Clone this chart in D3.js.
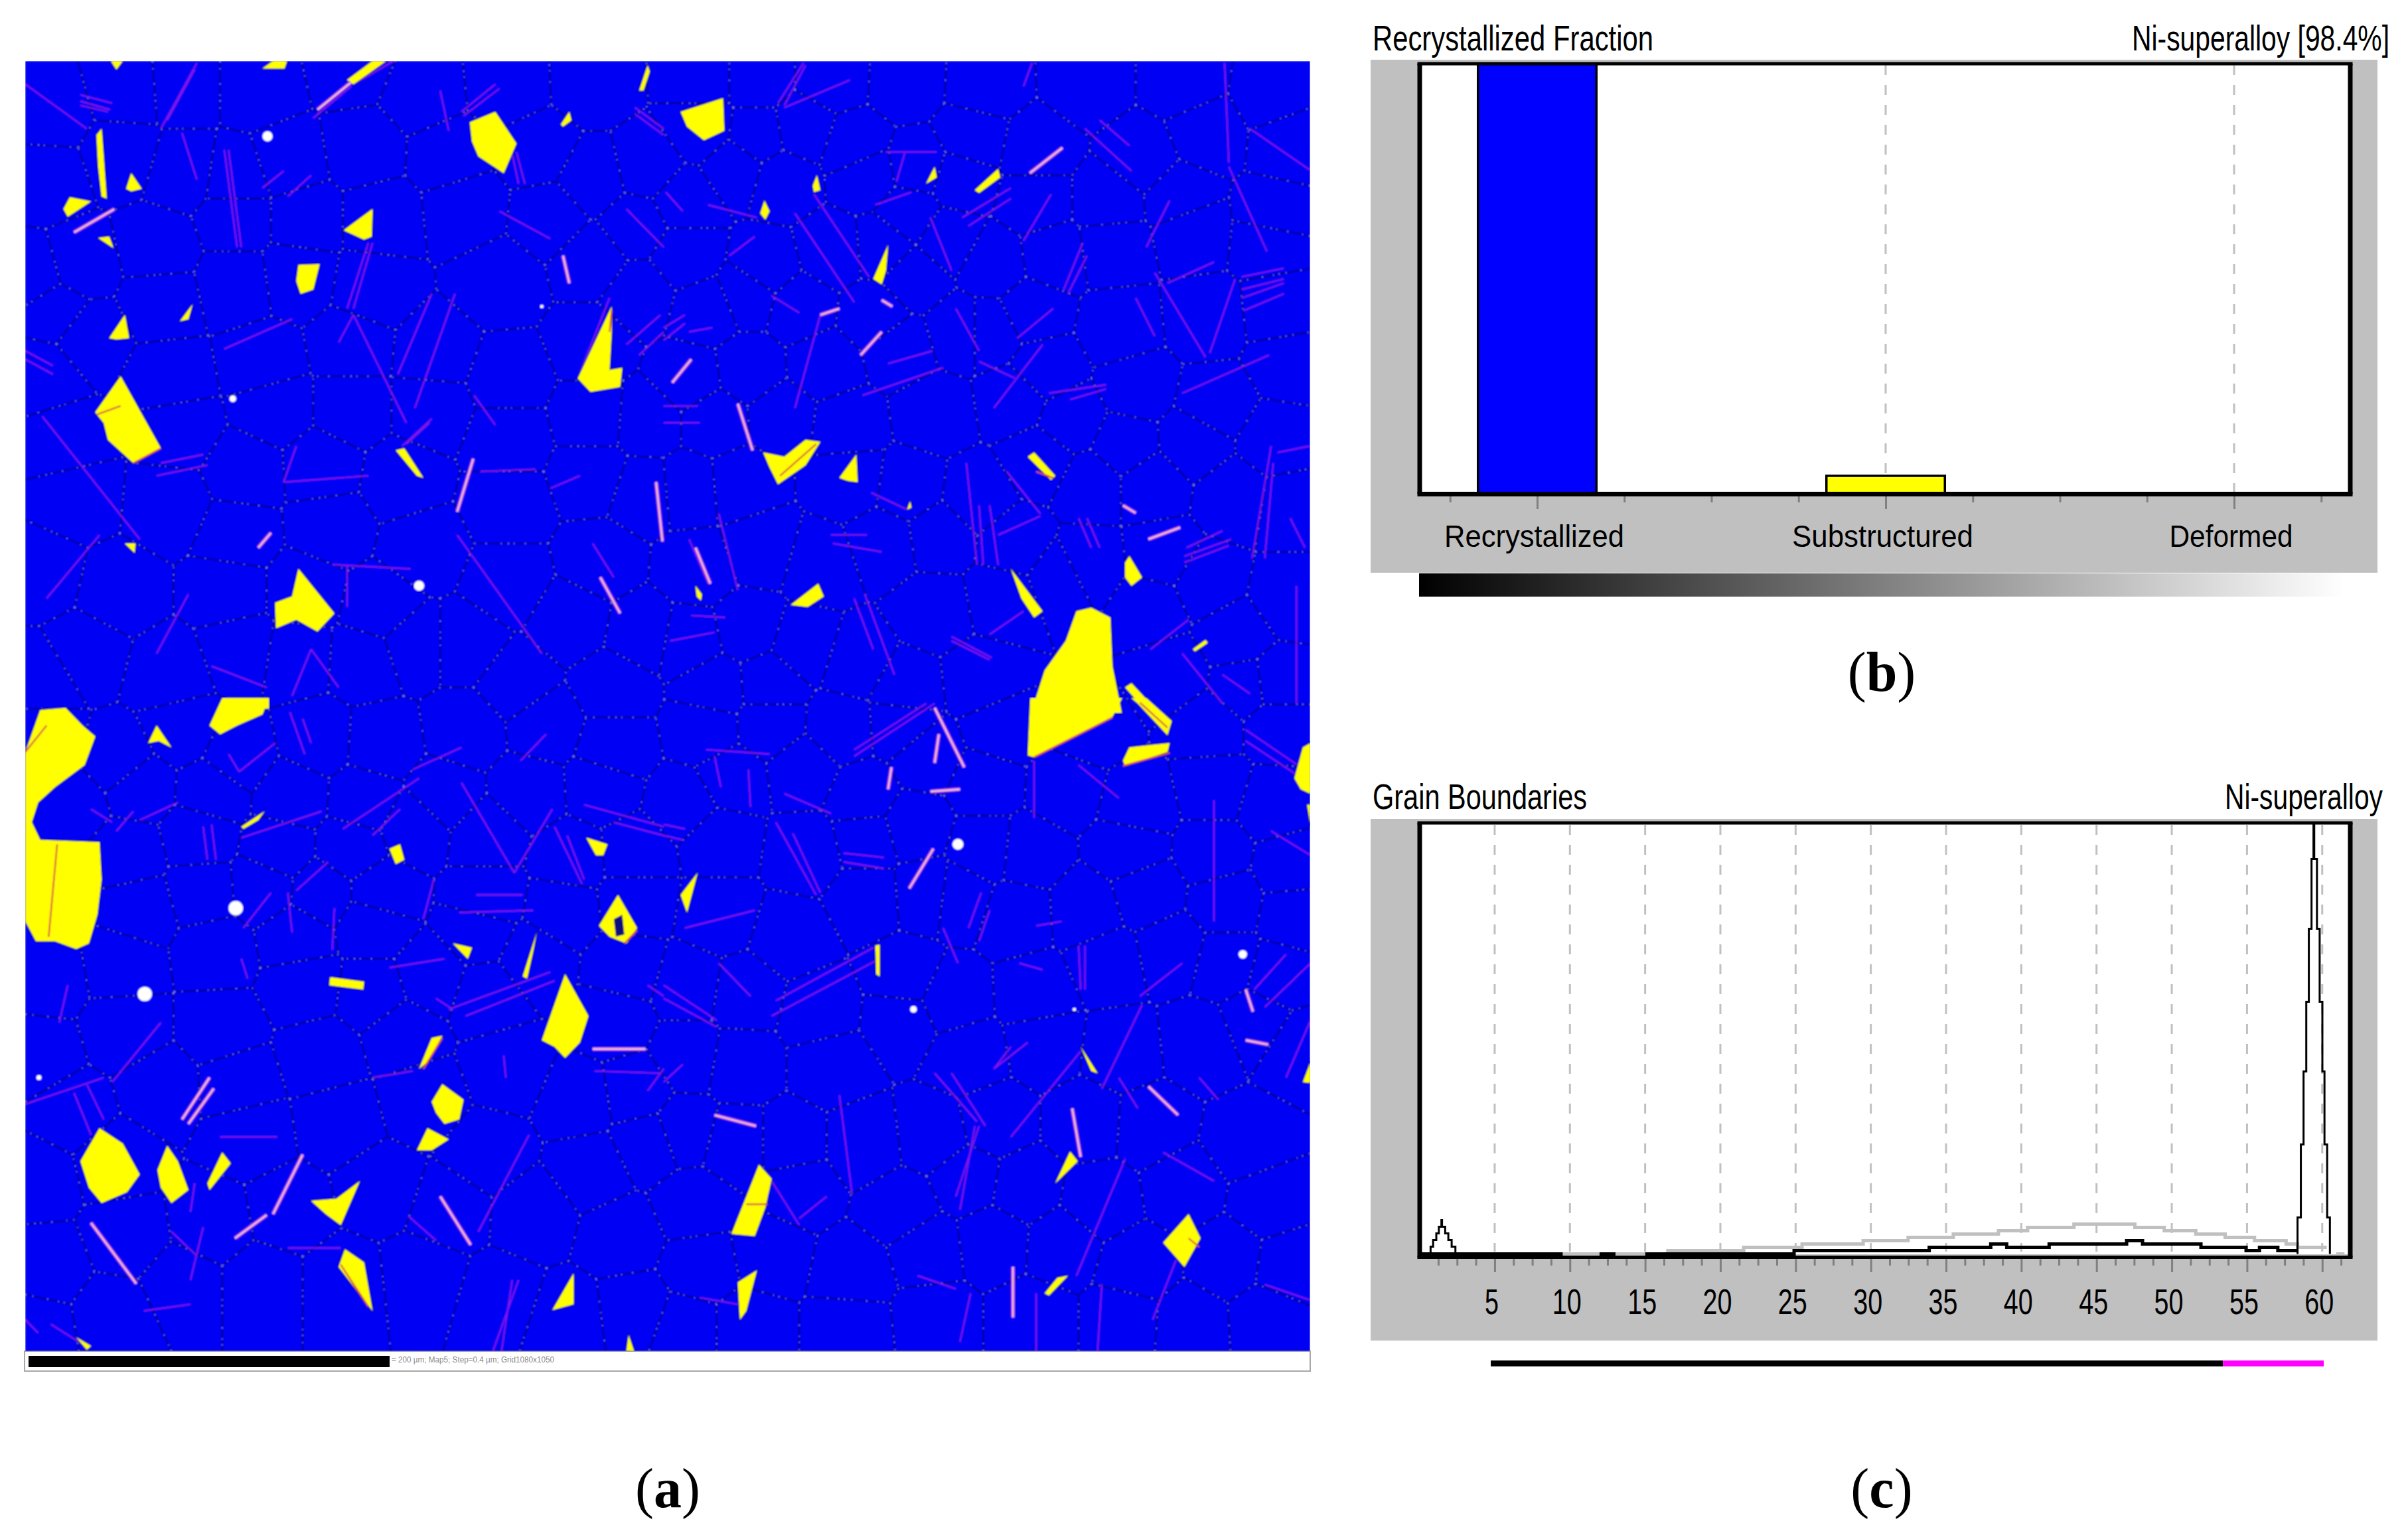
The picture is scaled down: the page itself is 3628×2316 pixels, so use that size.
<!DOCTYPE html>
<html><head><meta charset="utf-8">
<style>html,body{margin:0;padding:0;background:#fff}svg{display:block}</style>
<script src="https://cdn.jsdelivr.net/npm/d3@7/dist/d3.min.js"></script>
</head><body><svg id="chart" width="3628" height="2316"></svg>
<script>
/* ---------- Panel (b): recrystallized fraction ---------- */
const fractionCategories = ["Recrystallized","Substructured","Deformed"];
const fractionValues = [98.4, 4.1, 0];
const fractionColors = ["#0000ff","#ffff00","#ffffff"];
const fractionMinorTicks = [-0.25,0.25,0.5,0.75,1.25,1.5,1.75,2.25];
const fractionMajorTicks = [0,1,2];
const fractionRamp = ["#000000","#ffffff"];

/* ---------- Panel (c): grain boundary misorientation histogram ---------- */
const angleMajorTicks = [5,10,15,20,25,30,35,40,45,50,55,60];
const angleMinorTicks = d3.range(1,50).map(i=>i*1.25).filter(v=>v<62 && v%5!==0);
const measuredSteps = [[2.39,0],[24.9,1],[33.88,2],[37.97,3],[39.03,2],[41.85,3],[47.0,4],[48.06,3],[51.94,2],[54.94,1],[55.83,2],[57.05,1],[58.4,1]];
const randomSteps = [[16.4,1],[21.55,2],[25.43,3],[29.49,4],[32.48,5],[35.48,6],[38.48,7],[40.42,8],[43.5,9],[47.55,8],[49.5,7],[51.6,6],[53.55,5],[55.5,4],[57.6,3],[58.36,2],[60.3,2]];
const randomLowA = [[9.52,0],[11.97,0]];
const randomLowB = [[13.03,0],[15.01,0]];
const randomLowC = [[60.93,0],[61.48,0]];
const peakLow = [[0.74,0],[0.91,2.2],[1.12,4.2],[1.29,6.2],[1.46,8.2],[1.46,10.2],[1.5,10.2],[1.71,8.2],[1.92,6.2],[2.14,4.2],[2.39,2.2],[2.39,0]];
const peakHigh = [[58.36,0],[58.58,11],[58.76,33],[58.94,55],[59.11,76],[59.29,98],[59.42,119],[59.42,130],[59.47,130],[59.65,119],[59.83,98],[60.01,76],[60.15,55],[60.33,33],[60.51,11],[60.51,0]];
const colorKeyBounds = [4.74,53.4,60.1];
const colorKeyColors = ["#000000","#ff00ff"];

/* ---------- Panel (a): EBSD map, read tile by tile (tile units, 0-1568) ---------- */
const grainsNW = [
[[262,50],[290,50],[275,70]],[[620,68],[645,50],[678,50],[672,68]],
[[820,95],[880,50],[912,50],[835,105]],
[[1110,195],[1170,170],[1220,245],[1190,315],[1130,275],[1115,240]],
[[1510,120],[1530,60],[1535,75],[1520,120]],[[1325,200],[1345,170],[1350,190],[1330,205]],
[[228,225],[240,210],[252,375],[240,370],[232,300]],[[298,352],[310,315],[335,352],[310,358]],
[[150,400],[165,372],[215,382],[180,405],[160,418]],[[232,468],[258,465],[268,492]],
[[812,450],[880,400],[878,465],[860,472]],[[705,532],[755,530],[740,590],[710,600],[700,570]],
[[258,705],[295,650],[305,705],[275,708]],[[425,665],[455,625],[445,660]],
[[225,880],[285,795],[380,965],[315,1000],[255,945],[245,905]],
[[1365,800],[1445,630],[1445,690],[1440,780],[1470,775],[1465,820],[1395,832]],
[[935,970],[955,965],[1000,1035],[985,1030]],[[295,1190],[320,1190],[318,1212]],
[[650,1330],[690,1315],[705,1250],[790,1355],[750,1398],[700,1370],[665,1385],[652,1390]],
[[525,1580],[535,1555],[635,1555],[635,1580]]];
const grainsNE = [
[[40,170],[140,138],[143,215],[95,237],[55,205]],[[352,345],[362,320],[370,355],[355,360]],
[[228,410],[238,380],[250,405],[240,425]],[[620,340],[640,300],[645,325]],
[[735,355],[790,305],[795,325],[745,362]],[[495,565],[530,485],[525,545],[515,578]],
[[235,975],[285,985],[335,945],[370,950],[335,1005],[270,1050],[250,1010]],
[[415,1035],[455,980],[458,1045],[435,1042]],[[860,985],[875,975],[925,1030],[915,1040]],
[[300,1335],[365,1285],[378,1315],[340,1340]],[[820,1250],[850,1290],[895,1350],[875,1365],[845,1320]],
[[1090,1235],[1100,1220],[1130,1270],[1105,1290],[1090,1270]],[[75,1290],[90,1310],[88,1325],[78,1315]],
[[868,1590],[900,1490],[950,1420],[975,1350],[1010,1342],[1055,1365],[1060,1480],[1082,1590]],
[[1090,1530],[1105,1520],[1170,1590],[1143,1590]],[[1250,1440],[1280,1418],[1285,1425],[1255,1445]],
[[575,1110],[582,1090],[585,1105]]];
const grainsSW = [
[[60,110],[95,15],[155,10],[195,50],[225,75],[200,140],[130,190],[90,225],[75,270],[95,310],[235,315],[240,400],[230,480],[210,545],[180,558],[130,540],[85,540],[60,495]],
[[350,90],[370,50],[405,100],[375,85]],[[495,50],[525,-12],[635,-12],[620,25],[560,50],[520,70]],
[[570,280],[625,245],[610,265],[575,285]],[[1385,305],[1435,320],[1425,345],[1408,345]],
[[1415,505],[1460,435],[1505,510],[1480,545],[1440,530]],[[1070,545],[1115,555],[1105,580]],
[[1235,620],[1268,520],[1260,560],[1245,625]],[[780,622],[860,632],[858,650],[778,640]],
[[1280,765],[1335,615],[1390,710],[1370,770],[1335,805],[1310,780]],[[990,830],[1020,760],[1045,755],[1010,815]],
[[1020,905],[1045,865],[1095,900],[1085,945],[1050,955],[1030,930]],[[985,1015],[1010,965],[1060,990],[1020,1015]],
[[190,1040],[235,965],[290,1000],[330,1070],[300,1110],[240,1135],[210,1100]],
[[372,1060],[395,1005],[420,1040],[445,1105],[405,1135],[380,1100]],[[490,1090],[525,1020],[545,1045],[495,1105]],
[[735,1130],[795,1125],[850,1085],[805,1185],[770,1160]],[[800,1280],[815,1240],[860,1270],[880,1380]],
[[1305,1378],[1340,1320],[1355,1295],[1355,1365]],[[1480,1470],[1485,1435],[1498,1472]],
[[180,1440],[215,1460],[205,1468]],[[920,330],[945,320],[955,355],[935,365]]];
const grainsSE = [
[[866,-12],[1083,-12],[1060,30],[875,122],[860,118]],[[1105,-12],[1140,-12],[1200,40],[1190,72],[1120,0]],
[[1085,130],[1100,100],[1145,95],[1195,90],[1190,110],[1090,142]],
[[1490,170],[1510,100],[1528,90],[1528,205],[1505,195]],[[1520,230],[1528,230],[1528,275]],
[[40,435],[80,385],[55,475]],[[500,550],[510,548],[510,620],[502,615]],[[985,780],[1025,840],[1010,835]],
[[1510,860],[1528,815],[1528,862]],[[160,1205],[225,1048],[255,1080],[240,1145],[215,1210]],
[[175,1315],[220,1288],[195,1380],[180,1400]],[[925,1090],[960,1018],[978,1040]],
[[1180,1225],[1240,1160],[1268,1215],[1230,1280]],[[900,1340],[930,1305],[955,1300],[910,1345]]];

const holesSW = [[[1450,490],[1470,480],[1475,525],[1455,530]]];
const holesNW = [];const holesNE = [];const holesSE = [];

const voidsNW = [[632,228,12],[990,1290,12],[1280,630,4],[550,848,8]];
const voidsNE = [];
const voidsSW = [[557,465,17],[342,660,17],[92,850,6]];
const voidsSE = [[695,320,13],[1368,570,10],[590,695,8],[970,695,4]];

const edgesNW = [[315,1000,380,965],[230,885,285,865],[1440,690,1445,640]];
const edgesNE = [[275,1030,360,955],[880,1020,920,1035]];
const edgesSW = [[60,110,110,50],[135,320,115,530],[805,1275,870,1370],[1475,545,1505,515],[1000,830,1045,760]];
const edgesSE = [[1125,-2,1190,55],[195,1138,245,1138],[1085,142,1195,112],[875,122,1060,32],[1240,1215,1265,1235]];

const twinsNW = [[60,105,205,210],[380,210,465,55],[395,190,460,70],[190,130,265,150],[190,145,260,165],[190,155,255,170],[740,185,830,110],[835,105,930,50],[1090,170,1170,105],[1095,180,1180,115],[1040,120,1060,215],[430,220,465,330],[530,260,560,490],[540,260,570,490],[1210,270,1225,340],[1220,265,1240,340],[620,350,670,310],[680,370,735,320],[820,635,870,480],[835,635,880,480],[530,730,690,660],[60,735,125,770],[60,755,125,790],[800,715,835,650],[835,650,960,905],[940,790,1020,600],[980,870,1075,600],[950,960,1020,895],[960,955,1015,905],[1365,800,1440,610],[1480,720,1560,650],[1510,745,1568,690],[1180,405,1300,470],[1480,400,1568,490],[1500,160,1568,210],[1500,175,1568,225],[670,1045,870,1030],[670,1045,700,960],[100,890,330,1180],[110,1320,235,1170],[1135,1020,1265,1015],[1080,1170,1280,1450],[785,1240,970,1250],[820,1240,820,1340],[1400,1190,1450,1270],[380,1000,480,980],[370,1030,490,1005],[500,1480,630,1530],[370,1450,445,1310],[735,1440,800,1530],[690,1550,735,1440],[1120,840,1170,910],[1300,1060,1370,1030]];
const brightNW = [[175,455,270,400],[1330,510,1345,575],[1080,1115,1118,990],[1418,1270,1465,1355],[1550,1045,1565,1185],[610,1200,640,1165],[750,165,830,100]];

const twinsNE = [[270,150,330,55],[285,155,335,60],[285,160,440,95],[850,110,870,55],[1325,55,1335,290],[1385,210,1530,310],[995,210,1105,310],[1030,190,1100,250],[5,360,45,405],[310,410,450,620],[355,365,485,560],[525,265,645,265],[550,335,570,265],[105,390,220,420],[155,510,215,465],[500,390,585,360],[630,420,680,545],[705,420,820,350],[720,440,820,375],[850,475,915,365],[945,590,990,480],[955,600,1000,510],[1140,490,1195,380],[1335,300,1425,500],[1190,575,1300,525],[1160,550,1280,750],[1290,740,1350,565],[1365,560,1465,540],[1365,590,1465,565],[1365,610,1465,575],[310,870,370,650],[0,680,50,650],[0,710,50,670],[60,690,115,680],[255,605,320,645],[470,840,660,775],[530,765,635,735],[690,635,745,735],[745,760,830,800],[780,870,895,720],[835,705,920,635],[910,835,1045,815],[960,850,1045,825],[1225,835,1430,745],[1450,975,1525,960],[0,905,85,905],[0,865,80,865],[490,1070,575,1110],[715,1000,740,1240],[745,1100,755,1240],[770,1100,790,1240],[790,1170,890,1125],[770,1405,850,1350],[680,1410,775,1460],[680,1420,770,1465],[450,1320,495,1440],[475,1310,545,1500],[1230,1220,1340,1180],[1230,1235,1335,1195],[1235,1200,1320,1160],[1390,1225,1435,960],[1420,1225,1440,1000],[1495,1290,1495,1568],[1480,1130,1515,1200],[1320,1500,1385,1545],[1150,1440,1240,1370],[1225,1450,1320,1568],[395,1170,480,1170],[400,1190,515,1210],[15,1420,120,1400],[65,1360,145,1365],[60,1180,105,1285],[130,1120,175,1300],[810,1020,890,1120],[980,1130,1010,1200],[1000,1130,1030,1200],[1370,640,1465,600],[1115,610,1160,700]];
const brightNE = [[865,315,942,255],[1145,1180,1220,1152],[1085,1100,1115,1118],[515,615,540,630],[370,650,415,635],[465,745,515,690],[20,810,65,755],[175,860,210,970],[75,1200,110,1285]];

const twinsSW = [[700,425,775,360],[215,240,265,270],[275,290,315,245],[520,985,655,985],[680,1237,805,1237],[1405,835,1560,840],[120,1410,210,1465],[1060,695,1300,610],[1100,710,1310,630],[1090,180,1215,385],[1215,385,1305,240],[810,285,990,170],[880,300,945,240],[570,305,760,245],[60,910,245,850],[265,860,380,725],[175,885,215,980],[205,865,245,945],[1130,1200,1250,980],[1165,1470,1225,1310],[1185,1470,1210,1310],[1310,280,1375,410],[1340,300,1380,400],[480,280,490,355],[500,275,510,355],[1230,130,1290,70],[1380,230,1568,280],[1450,270,1568,300],[975,150,1090,100],[685,20,720,115],[715,35,735,90],[540,115,565,155],[565,155,650,90],[330,265,420,225],[1000,490,1025,400],[1085,475,1260,470],[1125,435,1235,435],[570,580,585,625],[140,725,160,640],[575,510,640,430],[680,430,690,520],[790,465,785,560],[920,600,1050,580],[1030,670,1070,695],[450,1310,480,1190],[340,1380,450,1365],[405,1200,465,1255],[965,1165,1030,1220],[1530,640,1568,665],[1190,800,1195,850],[880,850,975,835],[450,1155,460,1090],[60,1400,90,1430],[1530,880,1568,830]];
const brightSW = [[215,1180,322,1318],[430,945,495,850],[445,955,505,875],[555,1215,630,1162],[645,1160,715,1025],[1040,1120,1112,1230],[1400,785,1525,785]];

const twinsSE = [[450,120,640,0],[450,105,620,0],[130,590,205,665],[265,675,495,555],[255,710,500,585],[0,640,125,720],[0,670,125,735],[1035,875,1130,685],[820,985,985,790],[50,510,215,470],[265,270,360,435],[305,295,370,430],[285,205,395,250],[425,340,520,350],[425,360,520,375],[980,550,985,650],[995,550,995,650],[880,505,940,495],[1300,220,1300,495],[875,130,875,260],[980,140,1075,215],[1375,60,1528,160],[1375,85,1500,165],[1435,290,1528,345],[1420,690,1528,590],[1470,850,1528,720],[1395,650,1470,570],[1125,665,1225,590],[415,890,445,1115],[0,860,45,820],[690,1120,745,960],[735,960,700,1150],[975,1300,1090,1035],[1155,1400,1210,1265],[600,1300,690,1330],[85,1350,175,1365],[1420,1320,1525,1355],[255,1085,320,1185],[320,1170,385,1120],[0,275,50,285],[0,300,45,310],[120,120,135,190],[200,150,205,235],[100,105,250,115],[660,510,695,590],[720,510,750,430],[745,540,770,470],[840,590,895,605],[1265,850,1310,900],[640,840,740,950],[680,840,760,960],[780,830,860,770],[780,830,820,780],[1180,1020,1300,1085],[700,1450,725,1340],[880,1470,880,1340],[1025,1470,1035,1320],[1075,850,1120,920]];
const brightSE = [[640,10,710,145],[640,135,650,70],[630,200,700,195],[530,195,538,145],[120,935,218,960],[1375,650,1392,700],[1375,765,1428,775],[965,920,985,1030],[825,1280,825,1395],[580,420,637,330],[1145,870,1215,935]];

const centersNW = [[120,170],[300,120],[430,110],[610,110],[830,60],[1000,130],[1200,110],[1400,100],[110,330],[290,270],[430,310],[560,330],[680,290],[860,260],[1060,270],[1270,260],[1400,330],[1530,300],[80,560],[190,530],[370,490],[560,420],[720,420],[900,420],[1100,400],[1300,420],[1500,440],[130,640],[380,620],[560,580],[700,560],[880,590],[1180,570],[1400,520],[1510,600],[100,790],[210,700],[400,800],[620,760],[830,720],[1030,740],[1200,800],[1400,720],[150,950],[420,920],[650,870],[830,870],[1020,870],[1200,940],[1400,890],[1530,900],[180,1080],[400,1100],[580,1020],[760,1010],[950,1040],[1200,1100],[1400,1030],[1520,1070],[100,1260],[280,1300],[560,1170],[780,1150],[1000,1200],[1200,1280],[1420,1230],[200,1450],[540,1300],[720,1300],[900,1340],[1100,1430],[1350,1370],[1520,1400],[100,1510],[400,1500],[570,1440],[700,1460],[860,1470],[980,1430],[1220,1520],[1450,1530]];
const centersNE = [[90,90],[220,90],[400,90],[570,100],[760,110],[1000,100],[1230,100],[1440,130],[90,210],[220,230],[330,210],[450,250],[600,300],[730,230],[880,260],[1130,280],[1280,220],[1480,240],[50,380],[170,300],[280,330],[480,320],[580,410],[700,330],[880,380],[1050,380],[1220,370],[1440,420],[50,510],[240,540],[400,500],[520,490],[670,470],[780,530],[920,510],[1060,490],[1250,450],[1430,470],[100,640],[200,600],[320,630],[500,650],[590,560],[700,690],[870,640],[1080,680],[1280,660],[1460,640],[60,800],[200,780],[380,770],[560,730],[770,690],[900,780],[1120,820],[1300,860],[1480,760],[120,900],[280,890],[430,910],[640,880],[830,850],[960,900],[1090,960],[1250,950],[1450,950],[60,1060],[180,1050],[440,1040],[580,1060],[740,1080],[890,990],[1010,1050],[1150,1050],[1350,1080],[1480,1100],[80,1250],[230,1200],[370,1240],[520,1190],[650,1170],[830,1190],[1000,1240],[1180,1220],[1280,1280],[1480,1320],[60,1420],[200,1390],[330,1430],[460,1470],[640,1350],[800,1320],[940,1270],[1150,1340],[1350,1410],[1450,1520],[120,1530],[250,1520],[570,1530],[750,1510],[1200,1500],[1370,1530]];
const centersSW = [[100,80],[280,130],[430,60],[560,120],[750,80],[900,90],[1100,60],[1290,50],[1450,100],[170,230],[330,190],[500,200],[690,210],[860,220],[1050,210],[1250,200],[1420,190],[300,340],[470,300],[660,330],[830,330],[980,280],[1150,300],[1350,350],[1500,340],[330,470],[480,430],[620,420],[760,430],[900,430],[1150,440],[1330,470],[1500,450],[110,620],[290,590],[510,560],[700,530],[880,500],[1130,520],[1260,580],[1480,600],[90,800],[300,740],[520,740],[720,640],[880,660],[1020,620],[1150,660],[1450,720],[170,930],[380,870],[560,860],[760,800],[950,750],[1200,830],[1370,900],[1500,880],[90,1080],[270,1040],[590,980],[800,950],[1000,900],[1150,1020],[1400,1060],[1530,1000],[110,1280],[300,1210],[500,1180],[680,1150],[900,1100],[1060,1150],[1260,1160],[1470,1210],[80,1420],[270,1390],[430,1320],[620,1320],[810,1320],[1000,1300],[1180,1350],[1340,1400],[1500,1380]];
const centersSE = [[100,60],[250,50],[420,60],[560,50],[800,60],[1000,60],[1290,50],[1450,50],[50,230],[160,170],[330,150],[470,210],[620,120],[760,180],[950,190],[1120,230],[1300,190],[1440,230],[130,310],[340,340],[480,310],[590,280],[760,330],[860,340],[1100,330],[1300,340],[1480,370],[130,480],[300,530],[480,440],[620,430],[700,440],[830,480],[1000,470],[1140,430],[1330,450],[1490,480],[60,640],[190,660],[370,700],[570,620],[680,670],[880,660],[1050,590],[1200,560],[1330,590],[1450,620],[60,800],[180,820],[400,820],[560,720],[720,800],[900,770],[1080,790],[1270,770],[1400,720],[1500,780],[50,970],[170,1000],[300,1000],[470,1000],[640,980],[780,950],[1000,950],[1150,960],[1380,1000],[70,1140],[320,1100],[560,1150],[720,1080],[850,1100],[1030,1130],[1230,1100],[1430,1130],[90,1280],[250,1250],[450,1290],[620,1240],[780,1220],[940,1230],[1120,1280],[1330,1260],[1480,1280],[50,1420],[200,1420],[440,1420],[640,1400],[870,1400],[1090,1400],[1240,1410],[1430,1400]];

/* ---------- Drawing ---------- */
const svg = d3.select("#chart");
const SANS = "'Liberation Sans Narrow','Liberation Sans',Arial,sans-serif", SERIF = "'Liberation Serif',serif";
const GRAY = "#c0c0c0", TICK = "#808080";

function squeezed(g,x,y,txt,len,size,anchor){
  return g.append("text").attr("x",x).attr("y",y).attr("font-family",SANS).attr("font-size",size)
    .attr("text-anchor",anchor||"start").attr("textLength",len).attr("lengthAdjust","spacingAndGlyphs")
    .attr("fill","#000").text(txt);
}
function caption(x,y,letter){
  const t = svg.append("text").attr("x",x).attr("y",y).attr("text-anchor","middle")
    .attr("font-family",SERIF).attr("font-size",84).attr("fill","#000");
  t.append("tspan").text("(");
  t.append("tspan").attr("font-weight","bold").text(letter);
  t.append("tspan").text(")");
}
function frame(g,x0,x1,y0,y1,bottomW){
  const seg=(a,b,c,d,w)=>g.append("line").attr("x1",a).attr("y1",b).attr("x2",c).attr("y2",d).attr("stroke","#000").attr("stroke-width",w);
  seg(x0-3.5,y0,x1+3.5,y0,5); seg(x0,y0,x0,y1,7); seg(x1,y0,x1,y1,7); seg(x0-3.5,y1,x1+3.5,y1,bottomW);
}
function styleAxis(g){
  g.select(".domain").remove();
  g.selectAll(".tick line").attr("stroke",TICK).attr("stroke-width",3);
}

/* ---- panel a ---- */
const mapG = svg.append("g");
const mapBox = {x0:38,x1:1974,y0:92,y1:2036};
svg.append("defs").html(`<clipPath id="mapClip"><rect x="${mapBox.x0}" y="${mapBox.y0}" width="${mapBox.x1-mapBox.x0}" height="${mapBox.y1-mapBox.y0}"/></clipPath><filter id="soft" x="0" y="0" width="1" height="1"><feGaussianBlur stdDeviation="0.9"/></filter>`);
mapG.append("rect").attr("x",mapBox.x0-1).attr("y",mapBox.y1).attr("width",mapBox.x1-mapBox.x0+1).attr("height",30)
  .attr("fill","#fff").attr("stroke","#a8a8a8").attr("stroke-width",2);
mapG.append("rect").attr("x",43).attr("y",2043).attr("width",544).attr("height",17).attr("fill","#000");
mapG.append("text").attr("x",590).attr("y",2053).attr("font-family",SANS).attr("font-size",12).attr("fill","#8a8a8a")
  .attr("textLength",245).attr("lengthAdjust","spacingAndGlyphs").text("= 200 µm; Map5; Step=0.4 µm; Grid1080x1050");

const tiles = [
 {g:grainsNW,h:holesNW,v:voidsNW,t:twinsNW,b:brightNW,c:centersNW,e:edgesNW,x:d3.scaleLinear([0,1568],[0,1000]),y:d3.scaleLinear([0,1568],[60,1060])},
 {g:grainsNE,h:holesNE,v:voidsNE,t:twinsNE,b:brightNE,c:centersNE,e:edgesNE,x:d3.scaleLinear([0,1568],[1000,2000]),y:d3.scaleLinear([0,1568],[60,1060])},
 {g:grainsSW,h:holesSW,v:voidsSW,t:twinsSW,b:brightSW,c:centersSW,e:edgesSW,x:d3.scaleLinear([0,1568],[0,1000]),y:d3.scaleLinear([0,1568],[1060,2100])},
 {g:grainsSE,h:holesSE,v:voidsSE,t:twinsSE,b:brightSE,c:centersSE,e:edgesSE,x:d3.scaleLinear([0,1568],[1000,2000]),y:d3.scaleLinear([0,1568],[1060,2100])}
];
const map = mapG.append("g").attr("clip-path","url(#mapClip)").append("g").attr("filter","url(#soft)");
map.append("rect").attr("x",mapBox.x0).attr("y",mapBox.y0).attr("width",mapBox.x1-mapBox.x0).attr("height",mapBox.y1-mapBox.y0).attr("fill","#0000f4");

const allCenters = tiles.flatMap(t=>t.c.map(p=>[t.x(p[0]),t.y(p[1])]));
const cellPath = d3.Delaunay.from(allCenters).voronoi([mapBox.x0,mapBox.y0,mapBox.x1,mapBox.y1]).render();
map.append("path").attr("d",cellPath).attr("fill","none").attr("stroke","#00009a").attr("stroke-width",2.6);
map.append("path").attr("d",cellPath).attr("fill","none").attr("stroke","#8c8cff").attr("stroke-width",1.4).attr("stroke-dasharray","2 9 1.5 21 2 15 1.5 7");

const lineOf = t => d3.line().x(p=>t.x(p[0])).y(p=>t.y(p[1]));
const segOf = t => d => lineOf(t)([[d[0],d[1]],[d[2],d[3]]]);
tiles.forEach(t=>{
  map.append("g").selectAll("path").data(t.t).join("path").attr("d",segOf(t)).attr("fill","none").attr("stroke","#7d18e8").attr("stroke-width",2.4);
});
tiles.forEach(t=>{
  map.append("g").selectAll("path").data(t.g).join("path").attr("d",d=>lineOf(t)(d)+"Z").attr("fill","none").attr("stroke","#14149a").attr("stroke-width",3).attr("stroke-linejoin","round");
});
tiles.forEach(t=>{
  map.append("g").selectAll("path").data(t.g).join("path").attr("d",d=>lineOf(t)(d)+"Z").attr("fill","#ffff00");
});
tiles.forEach(t=>{
  map.append("g").selectAll("path").data(t.h).join("path").attr("d",d=>lineOf(t)(d)+"Z").attr("fill","#101080");
  map.append("g").selectAll("path").data(t.e).join("path").attr("d",segOf(t)).attr("fill","none").attr("stroke","#d8503c").attr("stroke-width",2.4);
  const br = map.append("g");
  br.selectAll(".o").data(t.b).join("path").attr("class","o").attr("d",segOf(t)).attr("stroke","#a030e0").attr("stroke-width",6).attr("fill","none");
  br.selectAll(".i").data(t.b).join("path").attr("class","i").attr("d",segOf(t)).attr("stroke","#f6c4d4").attr("stroke-width",2.6).attr("fill","none");
  map.append("g").selectAll("circle").data(t.v).join("circle").attr("cx",d=>t.x(d[0])).attr("cy",d=>t.y(d[1])).attr("r",d=>d[2]/1.568).attr("fill","#fff");
});
caption(1006,2271,"a");

/* ---- panel b ---- */
const pb = svg.append("g");
pb.append("rect").attr("x",2065).attr("y",90).attr("width",1517).attr("height",773).attr("fill",GRAY);
pb.append("rect").attr("x",2139).attr("y",96).attr("width",1402).attr("height",648).attr("fill","#fff");
squeezed(pb,2068,76,"Recrystallized Fraction",423,53);
squeezed(pb,3600,76,"Ni-superalloy [98.4%]",388,53,"end");
const xB = d3.scaleLinear([0,2],[2316,3366]);
const yB = d3.scaleLinear([0,98.4],[744,96]);
pb.append("g").selectAll("line").data(fractionMajorTicks.slice(1)).join("line")
  .attr("x1",d=>xB(d)).attr("x2",d=>xB(d)).attr("y1",98).attr("y2",742)
  .attr("stroke",GRAY).attr("stroke-width",3).attr("stroke-dasharray","15 15");
pb.append("g").selectAll("rect").data(fractionValues.slice(0,2)).join("rect")
  .attr("x",(d,i)=>xB(i-0.17)).attr("width",xB(0.34)-xB(0)).attr("y",d=>yB(d)).attr("height",d=>yB(0)-yB(d))
  .attr("fill",(d,i)=>fractionColors[i]).attr("stroke","#000").attr("stroke-width",3.5);
frame(pb,2139,3541,96,744.5,7);
const bMinor = pb.append("g").attr("transform","translate(0,748)")
  .call(d3.axisBottom(xB).tickValues(fractionMinorTicks).tickSize(9).tickFormat(""));
styleAxis(bMinor);
const bMajor = pb.append("g").attr("transform","translate(0,748)")
  .call(d3.axisBottom(xB).tickValues(fractionMajorTicks).tickSize(19).tickFormat(i=>fractionCategories[i]));
styleAxis(bMajor);
const catWidths=[271,273,186];
bMajor.selectAll(".tick text").attr("x",-5).attr("y",76).attr("dy",0).attr("font-family",SANS).attr("font-size",47)
  .attr("fill","#000").attr("textLength",(d)=>catWidths[d]).attr("lengthAdjust","spacingAndGlyphs");
const rampScale = d3.scaleLinear([0,1],fractionRamp);
const rampId="ramp";
const grad = svg.select("defs").append("linearGradient").attr("id",rampId);
grad.selectAll("stop").data([0,1]).join("stop").attr("offset",d=>d).attr("stop-color",d=>rampScale(d));
pb.append("rect").attr("x",2138).attr("y",864).attr("width",1394).attr("height",35).attr("fill",`url(#${rampId})`);
caption(2835,1041,"b");

/* ---- panel c ---- */
const pc = svg.append("g");
pc.append("rect").attr("x",2065).attr("y",1234).attr("width",1517).attr("height",786).attr("fill",GRAY);
pc.append("rect").attr("x",2139).attr("y",1240).attr("width",1402).attr("height",650).attr("fill","#fff");
squeezed(pc,2068,1219,"Grain Boundaries",323,53);
squeezed(pc,3590,1219,"Ni-superalloy",238,53,"end");
const xC = d3.scaleLinear([0,62],[2138.6,3544.1]);
const yC = d3.scaleLinear([0,130],[1889.5,1239.5]);
pc.append("g").selectAll("line").data(angleMajorTicks).join("line")
  .attr("x1",d=>xC(d)).attr("x2",d=>xC(d)).attr("y1",1243).attr("y2",1886)
  .attr("stroke",GRAY).attr("stroke-width",3).attr("stroke-dasharray","15 15");
frame(pc,2139,3541,1240,1894.5,5);
const stepLine = d3.line().x(d=>xC(d[0])).y(d=>yC(d[1])).curve(d3.curveStepAfter);
const stairLine = d3.line().x(d=>xC(d[0])).y(d=>yC(d[1])).curve(d3.curveStepBefore);
pc.append("path").attr("d",stepLine([[0,0],...measuredSteps])).attr("fill","none").attr("stroke","#000").attr("stroke-width",5);
[randomSteps,randomLowA,randomLowB,randomLowC].forEach(s=>{
  pc.append("path").attr("d",stepLine(s)).attr("fill","none").attr("stroke",GRAY).attr("stroke-width",5);
});
[peakLow,peakHigh].forEach(s=>{
  pc.append("path").attr("d",stairLine(s)).attr("fill","none").attr("stroke","#000").attr("stroke-width",3);
});
const cMinor = pc.append("g").attr("transform","translate(0,1897)")
  .call(d3.axisBottom(xC).tickValues(angleMinorTicks).tickSize(10).tickFormat(""));
styleAxis(cMinor);
const cMajor = pc.append("g").attr("transform","translate(0,1897)")
  .call(d3.axisBottom(xC).tickValues(angleMajorTicks).tickSize(20).tickFormat(d3.format("d")));
styleAxis(cMajor);
cMajor.selectAll(".tick text").attr("x",-5).attr("y",83).attr("dy",0).attr("font-family",SANS).attr("font-size",53)
  .attr("fill","#000").attr("textLength",d=>d<10?21:44).attr("lengthAdjust","spacingAndGlyphs");
pc.append("g").selectAll("rect").data(colorKeyColors).join("rect")
  .attr("x",(d,i)=>xC(colorKeyBounds[i])).attr("width",(d,i)=>xC(colorKeyBounds[i+1])-xC(colorKeyBounds[i]))
  .attr("y",2050).attr("height",9).attr("fill",d=>d);
caption(2835,2271,"c");
</script></body></html>
